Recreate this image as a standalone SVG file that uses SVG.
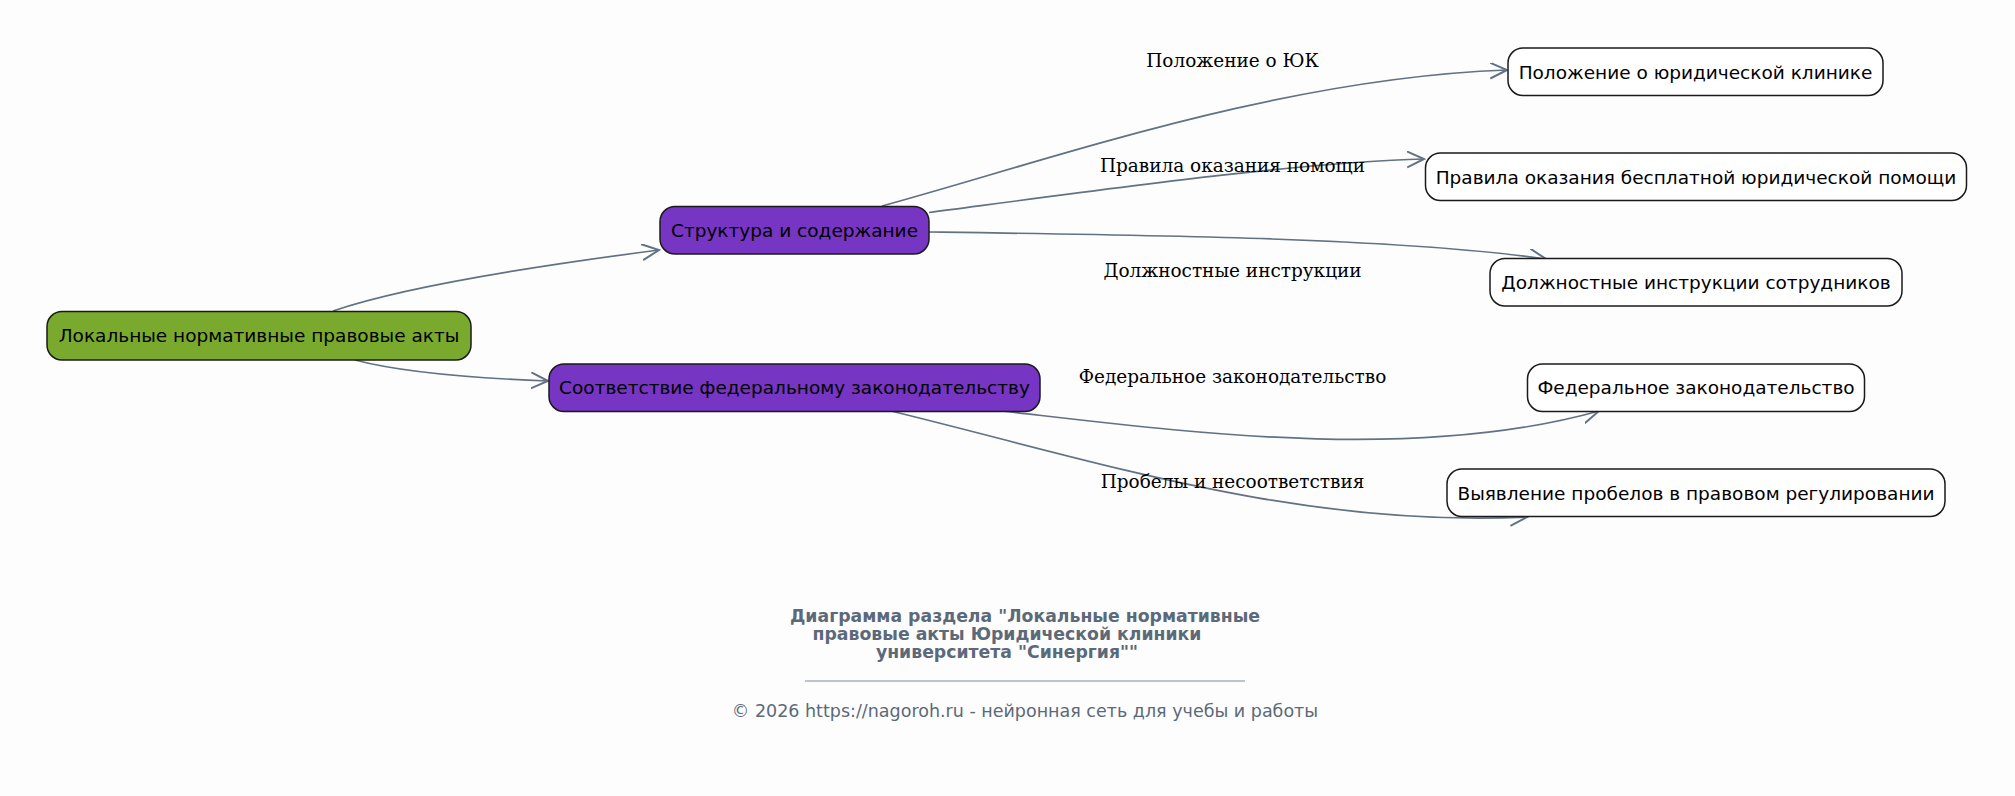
<svg xmlns="http://www.w3.org/2000/svg" width="2015" height="796" viewBox="0 0 2015 796">
<style>
.node rect{stroke:#1a1a1a;stroke-width:1.5}
.ntext{font-family:"DejaVu Sans",sans-serif;font-size:18.5px;fill:#000;text-anchor:middle}
.white{fill:#ffffff}
.green{fill:#79aa2d}
.purple{fill:#7635c2}
.edge{fill:none;stroke:#627183;stroke-width:1.7}
.elabel{font-family:"DejaVu Serif",serif;font-size:18.45px;fill:#000;text-anchor:middle}
.title{font-family:"DejaVu Sans",sans-serif;font-size:17.3px;font-weight:bold;fill:#5b6979;text-anchor:middle}
.copy{font-family:"DejaVu Sans",sans-serif;font-size:17.5px;fill:#5b6979;text-anchor:middle}
</style>
<defs>
<marker id="arr" markerUnits="userSpaceOnUse" markerWidth="20" markerHeight="20" refX="17" refY="8" orient="auto">
<path d="M0,0 L17,8 L0,16" fill="none" stroke="#627183" stroke-width="2"/>
</marker>
</defs>
<rect width="2015" height="796" fill="#fdfdfd"/>
<g id="edges">
<path class="edge" d="M333,311 C400,288 520,268 659,250" marker-end="url(#arr)"/>
<path class="edge" d="M355,360 C400,372 470,378 548,381" marker-end="url(#arr)"/>
<path class="edge" d="M882,206 C1050,160 1280,78 1507,70" marker-end="url(#arr)"/>
<path class="edge" d="M929,212.5 C1100,190 1300,162 1424,159" marker-end="url(#arr)"/>
<path class="edge" d="M929,232 C1150,235 1400,238 1546,259" marker-end="url(#arr)"/>
<path class="edge" d="M1002,411 C1170,430 1410,464 1599,411" marker-end="url(#arr)"/>
<path class="edge" d="M891,411 C1100,462 1300,528 1527,517" marker-end="url(#arr)"/>
<text class="elabel" x="1232.5" y="67">Положение о ЮК</text>
<text class="elabel" x="1232.5" y="172">Правила оказания помощи</text>
<text class="elabel" x="1232.5" y="277">Должностные инструкции</text>
<text class="elabel" x="1232.5" y="383">Федеральное законодательство</text>
<text class="elabel" x="1232.5" y="488">Пробелы и несоответствия</text>
</g>
<g id="root" class="node">
<rect class="green" x="47" y="311.5" width="424" height="48.5" rx="15"/>
<text class="ntext" x="259" y="342">Локальные нормативные правовые акты</text>
</g>
<g id="struct" class="node">
<rect class="purple" x="660" y="206.5" width="269" height="47.5" rx="15"/>
<text class="ntext" x="794.5" y="236.5">Структура и содержание</text>
</g>
<g id="federal" class="node">
<rect class="purple" x="549" y="364" width="491" height="47.5" rx="15"/>
<text class="ntext" x="794.5" y="394">Соответствие федеральному законодательству</text>
</g>
<g id="n1" class="node">
<rect class="white" x="1508" y="48" width="375" height="47.5" rx="15"/>
<text class="ntext" x="1695.5" y="78.5">Положение о юридической клинике</text>
</g>
<g id="n2" class="node">
<rect class="white" x="1425.5" y="153" width="541" height="47.5" rx="15"/>
<text class="ntext" x="1696" y="183.5">Правила оказания бесплатной юридической помощи</text>
</g>
<g id="n3" class="node">
<rect class="white" x="1490" y="258.5" width="412" height="47.5" rx="15"/>
<text class="ntext" x="1696" y="288.5">Должностные инструкции сотрудников</text>
</g>
<g id="n4" class="node">
<rect class="white" x="1527.5" y="364" width="337" height="47.5" rx="15"/>
<text class="ntext" x="1696" y="394">Федеральное законодательство</text>
</g>
<g id="n5" class="node">
<rect class="white" x="1447" y="469" width="498" height="47.5" rx="15"/>
<text class="ntext" x="1696" y="499.5">Выявление пробелов в правовом регулировании</text>
</g>
<g id="footer">
<text class="title" x="1025" y="622">Диаграмма раздела "Локальные нормативные</text>
<text class="title" x="1007" y="640">правовые акты Юридической клиники</text>
<text class="title" x="1007" y="658">университета "Синергия""</text>
<line x1="805" y1="681" x2="1245" y2="681" stroke="#7d8996" stroke-width="1"/>
<text class="copy" x="1025" y="717">© 2026 https://nagoroh.ru - нейронная сеть для учебы и работы</text>
</g>
</svg>
